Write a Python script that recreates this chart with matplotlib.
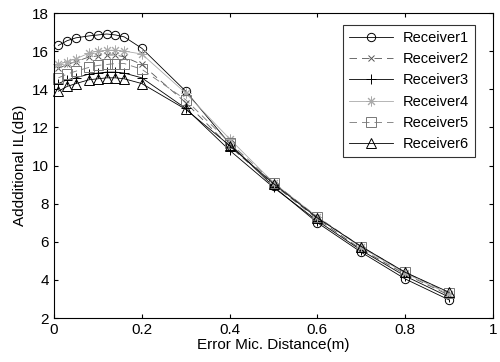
import numpy as np
import matplotlib
matplotlib.use('Agg')
import matplotlib.pyplot as plt

plt.rcParams['font.family'] = ['Liberation Sans', 'DejaVu Sans']

# error mic distance (m)
dist = [0.01, 0.03, 0.05, 0.08, 0.10, 0.12, 0.14, 0.16, 0.2, 0.3, 0.4, 0.5, 0.6, 0.7, 0.8, 0.9]

rec1 = [16.3, 16.55, 16.7, 16.8, 16.85, 16.9, 16.85, 16.75, 16.15, 13.9, 11.15, 8.9, 7.0, 5.45, 4.05, 2.95]
rec2 = [15.1, 15.3, 15.45, 15.7, 15.75, 15.8, 15.8, 15.7, 15.3, 13.3, 11.0, 9.0, 7.2, 5.6, 4.3, 3.2]
rec3 = [14.3, 14.5, 14.6, 14.8, 14.85, 14.9, 14.9, 14.85, 14.6, 13.0, 10.8, 8.85, 7.1, 5.55, 4.2, 3.1]
rec4 = [15.3, 15.45, 15.6, 15.9, 16.0, 16.05, 16.05, 16.0, 15.85, 13.8, 11.4, 9.1, 7.3, 5.7, 4.35, 3.25]
rec5 = [14.6, 14.8, 14.95, 15.15, 15.25, 15.3, 15.35, 15.35, 15.05, 13.45, 11.2, 9.1, 7.3, 5.75, 4.4, 3.3]
rec6 = [13.9, 14.15, 14.3, 14.5, 14.55, 14.6, 14.6, 14.55, 14.3, 12.95, 11.05, 9.05, 7.25, 5.75, 4.4, 3.35]

labels = ['Receiver1', 'Receiver2', 'Receiver3', 'Receiver4', 'Receiver5', 'Receiver6']
series = [rec1, rec2, rec3, rec4, rec5, rec6]
# linestyle, marker, colour, marker size
styles = [('-', 'o', 'black', 6),
          ('--', 'x', '#555555', 4.5),
          ('-', '+', 'black', 7),
          ('-', (8, 2, 0), '#aaaaaa', 7),
          ('--', 's', '#777777', 6.5),
          ('-', '^', 'black', 7)]

fig = plt.figure(figsize=(5, 3.62), dpi=100)
ax = fig.add_axes([0.108, 0.1215, 0.878, 0.8425])

for vals, lab, (ls, mk, col, ms) in zip(series, labels, styles):
    line, = ax.plot(dist, vals, linestyle=ls, marker=mk, color=col, lw=0.6,
                    markersize=ms, markerfacecolor='none', markeredgecolor=col,
                    markeredgewidth=0.7, label=lab, clip_on=False)
    if ls == '--':
        line.set_dashes((9, 6))

ax.set_xlim(0, 1)
ax.set_ylim(2, 18)
ax.set_xticks(np.arange(0, 1.01, 0.2))
ax.set_xticklabels(['0', '0.2', '0.4', '0.6', '0.8', '1'])
ax.set_yticks(np.arange(2, 19, 2))
ax.tick_params(direction='in', top=True, right=True, labelsize=11, length=3, width=0.8)
for s in ax.spines.values():
    s.set_linewidth(0.8)

ax.set_xlabel('Error Mic. Distance(m)', fontsize=11, labelpad=1)
ax.set_ylabel('Addditional IL(dB)', fontsize=11, labelpad=4)

leg = ax.legend(loc='upper right', bbox_to_anchor=(0.959, 0.961), borderaxespad=0,
                fontsize=10.5, handlelength=3.0, frameon=True, fancybox=False,
                edgecolor='black', labelspacing=0.5, handletextpad=0.7, borderpad=0.4)
leg.get_frame().set_linewidth(0.8)

fig.savefig('out.png', dpi=100)
